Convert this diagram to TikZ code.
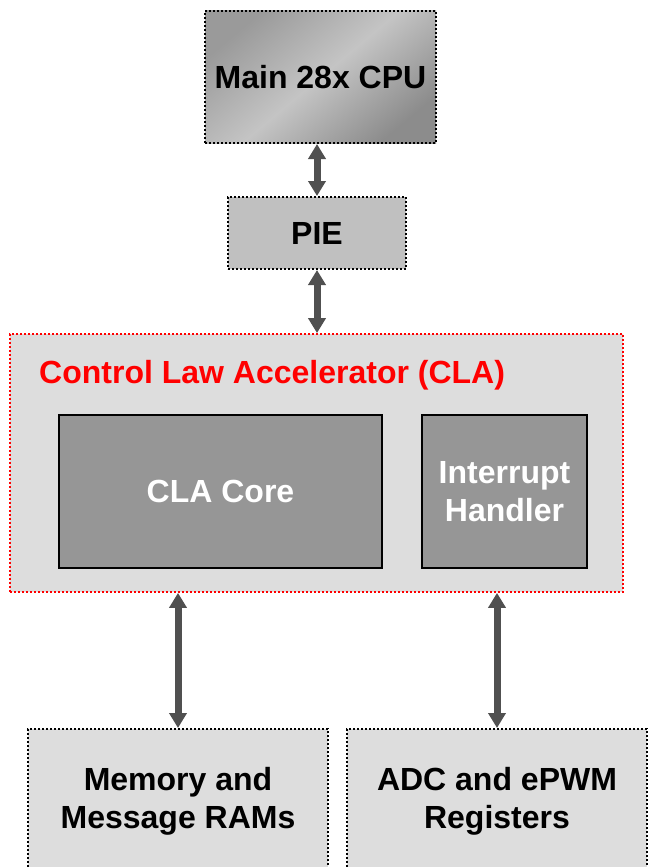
\documentclass[tikz,border=0pt]{standalone}
\usepackage{fontspec}
\setmainfont{Liberation Sans}
\usetikzlibrary{arrows.meta}
\definecolor{boxlight}{HTML}{DDDDDD}
\definecolor{piegray}{HTML}{C0C0C0}
\definecolor{coregray}{HTML}{969696}
\definecolor{arrowgray}{HTML}{505050}
\definecolor{cladred}{HTML}{FF0000}
\definecolor{cpudark}{HTML}{9A9A9A}
\definecolor{cpumid}{HTML}{C4C4C4}
\definecolor{cpudarker}{HTML}{8C8C8C}
\tikzset{
  dotbox/.style={draw=black, line width=2pt, dash pattern=on 2pt off 2pt, minimum width=#1},
  reddotbox/.style={draw=cladred, line width=1.8pt, dash pattern=on 1.8pt off 2.2pt, fill=boxlight},
  solidbox/.style={draw=black, line width=2.2pt, fill=coregray, text=white},
  bigtext/.style={font=\fontsize{32}{38}\selectfont\bfseries, align=center, inner sep=0pt},
  biarrow/.style={draw=arrowgray, line width=7pt,
    {Triangle[width=17pt,length=15pt]}-{Triangle[width=17pt,length=15pt]}}
}
\begin{document}
\begin{tikzpicture}[x=1pt,y=-1pt]
\useasboundingbox (0,0) rectangle (650,867);
\clip (0,0) rectangle (650,867);
\node[dotbox=231pt, minimum height=132pt, bigtext,
  top color=cpudark, bottom color=cpudarker, middle color=cpumid, shading angle=40] (cpu) at (320.5,77) {Main 28x CPU};
\node[dotbox=178pt, minimum height=72pt, bigtext, fill=piegray] (pie) at (317,233) {PIE};
\node[reddotbox, minimum width=613pt, minimum height=258pt, inner sep=0pt] (cla) at (316.5,463) {};
\node[bigtext, text=cladred, anchor=base west] (title) at (39,383) {Control Law Accelerator (CLA)};
\node[solidbox, bigtext, minimum width=323pt, minimum height=153pt] (core) at (220.5,491.5) {CLA Core};
\node[solidbox, bigtext, minimum width=165pt, minimum height=153pt] (ih) at (504.5,491.5) {Interrupt\\Handler};
\node[dotbox=300pt, minimum height=144pt, bigtext, fill=boxlight] (mem) at (178,801) {Memory and\\Message RAMs};
\node[dotbox=300pt, minimum height=144pt, bigtext, fill=boxlight] (adc) at (497,801) {ADC and ePWM\\Registers};
\draw[biarrow] (pie.north |- cpu.south) -- (pie.north);
\draw[biarrow] (pie.south) -- (pie.south |- cla.north);
\draw[biarrow] (mem.north |- cla.south) -- (mem.north);
\draw[biarrow] (adc.north |- cla.south) -- (adc.north);
\end{tikzpicture}
\end{document}
